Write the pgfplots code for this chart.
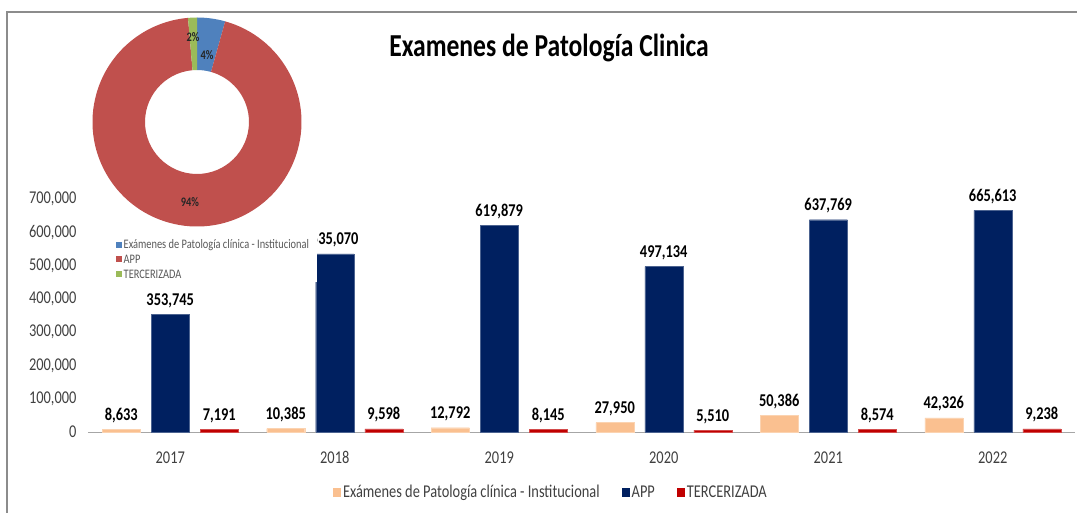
\documentclass[border=0pt]{standalone}
\usepackage{fontspec}
\setmainfont{Carlito}
\usepackage{graphicx}
\usepackage{pgfplots}
\usepackage{pgfplotstable}
\pgfplotsset{compat=1.18}
\usetikzlibrary{calc}

\definecolor{inst}{HTML}{FAC090}
\definecolor{app}{HTML}{002060}
\definecolor{terc}{HTML}{C00000}
\definecolor{dblue}{HTML}{4F81BD}
\definecolor{dred}{HTML}{C0504D}
\definecolor{dgreen}{HTML}{9BBB59}
\definecolor{axisgray}{HTML}{A6A6A6}
\definecolor{framegray}{HTML}{8C8C8C}
\definecolor{labelgray}{HTML}{404040}
\definecolor{smallgray}{HTML}{595959}

% the original text is narrow and tall
\newcommand\sq[1]{\scalebox{0.8}[1]{#1}}

\pgfplotstableread{
x inst app terc
0 8633 353745 7191
1 10385 535070 9598
2 12792 619879 8145
3 27950 497134 5510
4 50386 637769 8574
5 42326 665613 9238
}\datatable

% donut shares: totals of the three series, in thousands
\pgfmathsetmacro\totinst{152.472}
\pgfmathsetmacro\totapp{3309.210}
\pgfmathsetmacro\totterc{48.256}
\pgfmathsetmacro\tot{\totinst+\totapp+\totterc}
\pgfmathsetmacro\aA{90}
\pgfmathsetmacro\aB{\aA-360*(\totinst/\tot)}
\pgfmathsetmacro\aC{\aB-360*(\totapp/\tot)}
\pgfmathsetmacro\aD{\aC-360*(\totterc/\tot)}

\newcommand\donutslice[3]{%
  \fill[#1] ($(axis cs:197,-122)+(#2:104.5pt)$)
    arc[start angle=#2, end angle=#3, radius=104.5pt]
    -- ($(axis cs:197,-122)+(#3:52pt)$)
    arc[start angle=#3, end angle=#2, radius=52pt] -- cycle;}

\begin{document}
\begin{tikzpicture}
\useasboundingbox (0,0) rectangle (1077pt,-513pt);

\begin{axis}[
  at={(88pt,-432pt)}, anchor=south west, scale only axis,
  width=987pt, height=233pt,
  xmin=-0.5, xmax=5.5, ymin=0, ymax=700000,
  ybar=11pt, bar width=38pt,
  axis x line*=bottom, axis y line*=left,
  y axis line style={draw=none},
  x axis line style={draw=axisgray, line width=1pt, -},
  xtick={0,...,5}, xticklabels={\sq{2017},\sq{2018},\sq{2019},\sq{2020},\sq{2021},\sq{2022}},
  ytick={0,100000,...,700000},
  major tick style={draw=none},
  scaled y ticks=false,
  yticklabel={\sq{\pgfmathprintnumber[fixed,1000 sep={,},assume math mode=true]{\tick}}},
  yticklabel style={xshift=-8pt},
  ticklabel style={font=\fontsize{18}{20}\selectfont, text=labelgray},
  xticklabel style={yshift=-12pt, text height=12pt, text depth=3pt},
  nodes near coords={\sq{\pgfmathprintnumber[fixed,1000 sep={,},assume math mode=true]{\pgfplotspointmeta}}},
  nodes near coords style={font=\bfseries\fontsize{18}{20}\selectfont, text=black, yshift=3pt},
  clip=false,
  legend style={at={(0.469,-0.2575)}, anchor=center, draw=none, fill=none,
    legend columns=3, font=\fontsize{18}{20}\selectfont, text=labelgray,
    /tikz/every even column/.append style={column sep=20pt}},
  legend image code/.code={\fill[#1, draw=none] (0pt,-4.5pt) rectangle (8pt,4pt);},
]
\addplot[fill=inst, draw=inst!70!white] table[x=x, y=inst] {\datatable};
\addplot[fill=app, draw=app!70!white] table[x=x, y=app] {\datatable};
\addplot[fill=terc, draw=terc!70!white] table[x=x, y=terc] {\datatable};
\legend{\sq{Exámenes de Patología clínica - Institucional}, \sq{APP}, \sq{TERCERIZADA}}
\end{axis}

% inset donut (white background covers part of the chart, as in the original)
\fill[white] (90pt,-282pt) rectangle (316.5pt,-12pt);
\begin{axis}[
  at={(90pt,-282pt)}, anchor=south west, scale only axis,
  width=227pt, height=270pt,
  xmin=90, xmax=317, ymin=-282, ymax=-12,
  hide axis, clip=false,
]
\donutslice{dblue}{\aA}{\aB}
\donutslice{dred}{\aB}{\aC}
\donutslice{dgreen}{\aC}{\aD}
\node[font=\bfseries\fontsize{13}{14}\selectfont, text=black!85] at (axis cs:193,-37) {\sq{2\%}};
\node[font=\bfseries\fontsize{13}{14}\selectfont, text=black!85] at (axis cs:207,-55) {\sq{4\%}};
\node[font=\bfseries\fontsize{13}{14}\selectfont, text=black!85] at (axis cs:190,-202) {\sq{94\%}};
\fill[dblue] (axis cs:116,-248) rectangle (axis cs:122,-242);
\fill[dred] (axis cs:116,-262) rectangle (axis cs:122,-256);
\fill[dgreen] (axis cs:116,-277) rectangle (axis cs:122,-271);
\node[anchor=west, inner sep=0.5pt, font=\fontsize{13}{14}\selectfont, text=smallgray] at (axis cs:123,-245) {\sq{Exámenes de Patología clínica - Institucional}};
\node[anchor=west, inner sep=0.5pt, font=\fontsize{13}{14}\selectfont, text=smallgray] at (axis cs:123,-259) {\sq{APP}};
\node[anchor=west, inner sep=0.5pt, font=\fontsize{13}{14}\selectfont, text=smallgray] at (axis cs:123,-274) {\sq{TERCERIZADA}};
\end{axis}

\draw[framegray, line width=1.3pt] (7pt,-513pt) -- (7pt,-12pt) -- (1077pt,-12pt);
\node[font=\bfseries\fontsize{32}{36}\selectfont] at (549pt,-48pt) {\sq{Examenes de Patología Clinica}};
\end{tikzpicture}
\end{document}
